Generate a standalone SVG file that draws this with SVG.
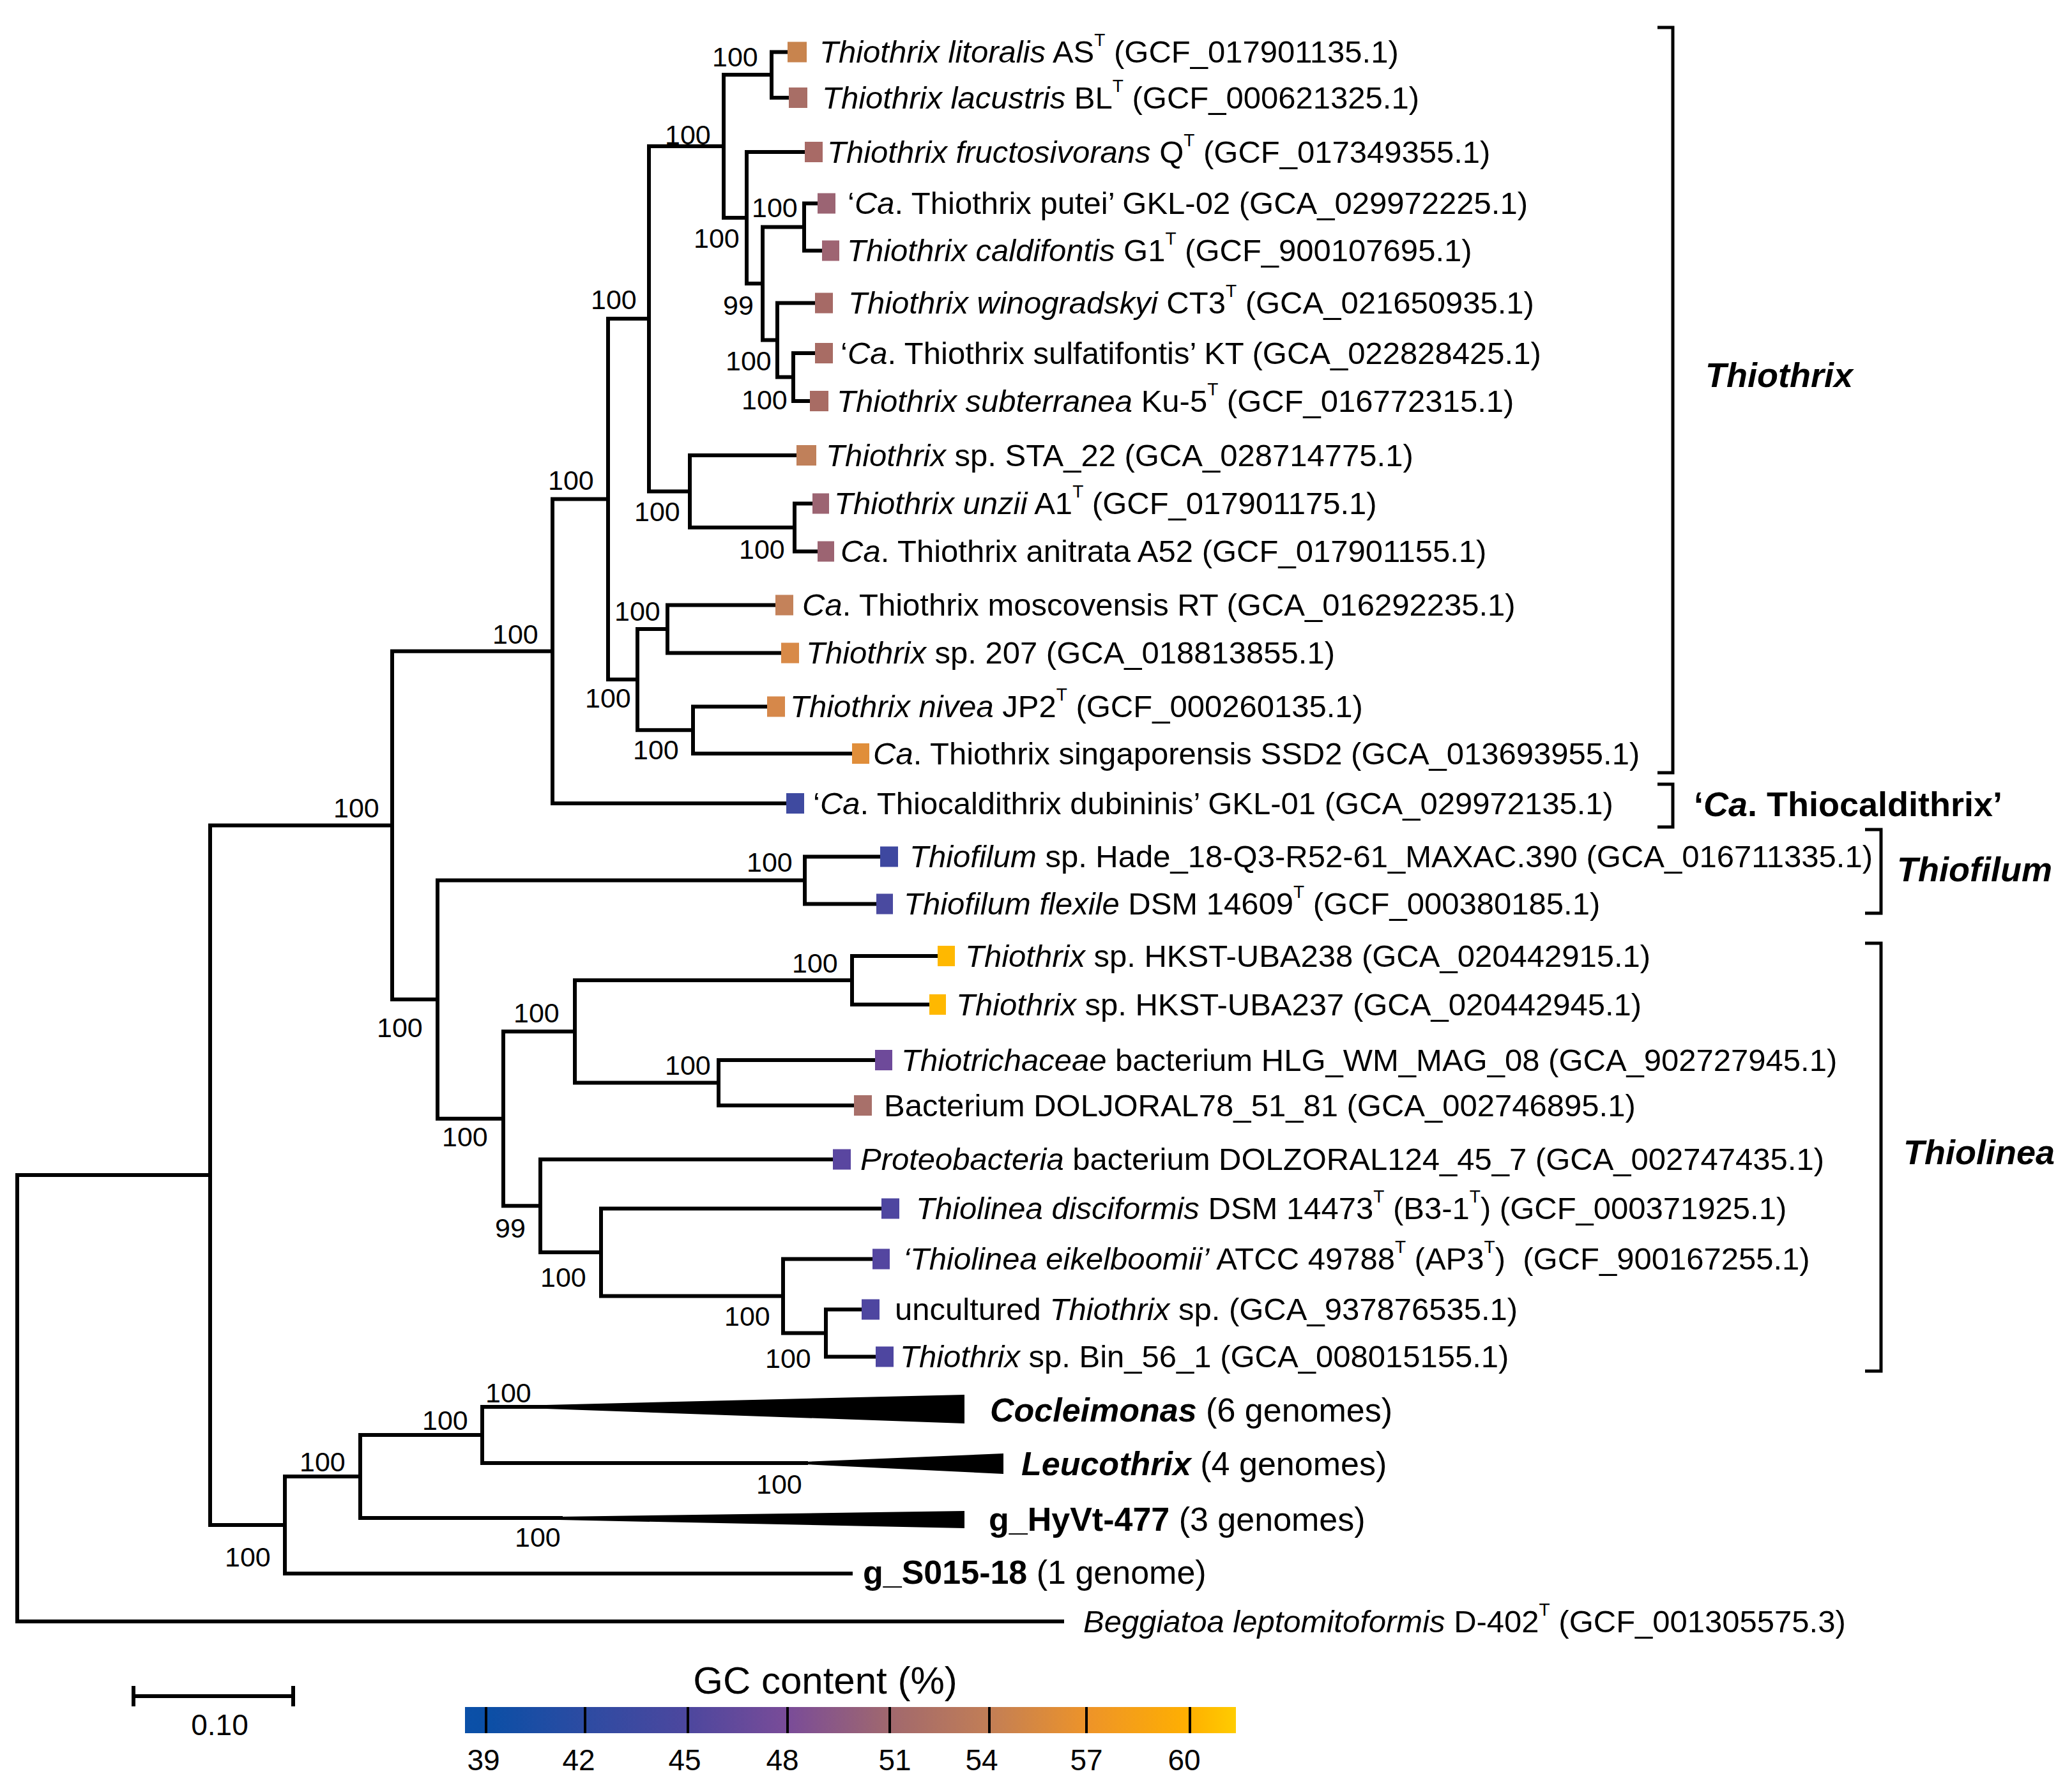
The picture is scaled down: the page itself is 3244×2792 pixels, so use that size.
<svg xmlns="http://www.w3.org/2000/svg" width="3244" height="2792" viewBox="0 0 3244 2792">
<style>
text{font-family:"Liberation Sans",Arial,sans-serif;fill:#000}
.leaf{font-size:49px}
.bs{font-size:43px}
.i{font-style:italic}
.b{font-weight:bold}
.sup{font-size:28px}
.clade{font-size:52px}
.grp{font-size:54px;font-weight:bold}
.br{fill:none;stroke:#000;stroke-width:6;stroke-linecap:square;stroke-linejoin:miter}
.bk{fill:none;stroke:#000;stroke-width:5}
.leg{font-size:46px}
</style>
<defs>
<linearGradient id="gc" x1="0" y1="0" x2="1" y2="0">
<stop offset="0" stop-color="#0B50A8"/>
<stop offset="0.03" stop-color="#0B4FA6"/>
<stop offset="0.16" stop-color="#2E4BA2"/>
<stop offset="0.29" stop-color="#4D479E"/>
<stop offset="0.42" stop-color="#7A4C98"/>
<stop offset="0.55" stop-color="#A0686E"/>
<stop offset="0.68" stop-color="#C27E56"/>
<stop offset="0.81" stop-color="#EE9428"/>
<stop offset="0.94" stop-color="#FFB000"/>
<stop offset="1" stop-color="#FFCC00"/>
</linearGradient>
</defs>
<rect width="3244" height="2792" fill="#fff"/>

<g id="connectors">
<path class="br" d="M1233,81.5 H1208 V153 H1235"/>
<path class="br" d="M1208,117 H1133 V341 H1169"/>
<path class="br" d="M1260,238 H1169 V444 H1194"/>
<path class="br" d="M1259,355.5 H1194 V532.5 H1217"/>
<path class="br" d="M1280,318.5 H1259 V392.5 H1287"/>
<path class="br" d="M1276,474.5 H1217 V590.5 H1242"/>
<path class="br" d="M1276,553 H1242 V628 H1268"/>
<path class="br" d="M1133,229 H1016 V769.5 H1080"/>
<path class="br" d="M1247,713 H1080 V826 H1244"/>
<path class="br" d="M1272,788.5 H1244 V863.5 H1280"/>
<path class="br" d="M1016,499 H952 V1064 H998"/>
<path class="br" d="M1045,985 H998 V1143.25 H1085"/>
<path class="br" d="M1214,947.5 H1045 V1022.5 H1223"/>
<path class="br" d="M1201,1106.5 H1085 V1180 H1334"/>
<path class="br" d="M952,781.5 H865 V1258 H1231"/>
<path class="br" d="M865,1019.75 H614 V1565 H685"/>
<path class="br" d="M1260,1378.5 H685 V1751.75 H788"/>
<path class="br" d="M1378,1341.5 H1260 V1415.5 H1372"/>
<path class="br" d="M900,1615.25 H788 V1888.25 H846"/>
<path class="br" d="M1334,1535 H900 V1695.5 H1125"/>
<path class="br" d="M1468,1497 H1334 V1573 H1455"/>
<path class="br" d="M1370,1660 H1125 V1731 H1337"/>
<path class="br" d="M1304,1815.5 H846 V1961 H941"/>
<path class="br" d="M1380,1892.5 H941 V2029.5 H1226"/>
<path class="br" d="M1366,1971.5 H1226 V2087.5 H1293"/>
<path class="br" d="M1349,2050.5 H1293 V2124.5 H1371"/>
<path class="br" d="M614,1292.4 H329 V2388 H446"/>
<path class="br" d="M329,1840 H27 V2539 H1663"/>
<path class="br" d="M564,2312 H446 V2464 H1332"/>
<path class="br" d="M755,2247 H564 V2377 H878"/>
<path class="br" d="M857,2203 H755 V2291 H1262"/>
</g>

<g id="support">
<text class="bs" x="1115" y="104">100</text>
<text class="bs" x="1041" y="226">100</text>
<text class="bs" x="1177" y="340">100</text>
<text class="bs" x="1086" y="388">100</text>
<text class="bs" x="1132" y="493">99</text>
<text class="bs" x="1136" y="580">100</text>
<text class="bs" x="1161" y="641">100</text>
<text class="bs" x="925" y="484">100</text>
<text class="bs" x="858" y="767">100</text>
<text class="bs" x="993" y="816">100</text>
<text class="bs" x="1157" y="875">100</text>
<text class="bs" x="962" y="972">100</text>
<text class="bs" x="916" y="1108">100</text>
<text class="bs" x="991" y="1189">100</text>
<text class="bs" x="771" y="1008">100</text>
<text class="bs" x="522" y="1280">100</text>
<text class="bs" x="1169" y="1365">100</text>
<text class="bs" x="590" y="1624">100</text>
<text class="bs" x="804" y="1601">100</text>
<text class="bs" x="1240" y="1523">100</text>
<text class="bs" x="1041" y="1683">100</text>
<text class="bs" x="692" y="1795">100</text>
<text class="bs" x="775" y="1938">99</text>
<text class="bs" x="846" y="2015">100</text>
<text class="bs" x="1134" y="2076">100</text>
<text class="bs" x="1198" y="2142">100</text>
<text class="bs" x="760" y="2196">100</text>
<text class="bs" x="661" y="2239">100</text>
<text class="bs" x="469" y="2304">100</text>
<text class="bs" x="1184" y="2339">100</text>
<text class="bs" x="806" y="2422">100</text>
<text class="bs" x="352" y="2453">100</text>
</g>

<g id="leaf-litoralis"><rect x="1233" y="65.5" width="30" height="32" fill="#C8844E"/><text class="leaf" x="1283" y="98"><tspan class="i">Thiothrix litoralis</tspan> AS<tspan class="sup" dy="-26">T</tspan><tspan dy="26"> (GCF_017901135.1)</tspan></text></g>
<g id="leaf-lacustris"><rect x="1235" y="137" width="29" height="32" fill="#A86E66"/><text class="leaf" x="1287" y="170"><tspan class="i">Thiothrix lacustris</tspan> BL<tspan class="sup" dy="-26">T</tspan><tspan dy="26"> (GCF_000621325.1)</tspan></text></g>
<g id="leaf-fructosivorans"><rect x="1260" y="222" width="28" height="32" fill="#A86A66"/><text class="leaf" x="1295" y="255"><tspan class="i">Thiothrix fructosivorans</tspan> Q<tspan class="sup" dy="-26">T</tspan><tspan dy="26"> (GCF_017349355.1)</tspan></text></g>
<g id="leaf-putei"><rect x="1280" y="302.5" width="28" height="32" fill="#9B6473"/><text class="leaf" x="1327" y="335">‘<tspan class="i">Ca</tspan>. Thiothrix putei’ GKL-02 (GCA_029972225.1)</text></g>
<g id="leaf-caldifontis"><rect x="1287" y="376.5" width="27" height="32" fill="#9E6472"/><text class="leaf" x="1326" y="409"><tspan class="i">Thiothrix caldifontis</tspan> G1<tspan class="sup" dy="-26">T</tspan><tspan dy="26"> (GCF_900107695.1)</tspan></text></g>
<g id="leaf-winogradskyi"><rect x="1276" y="458.5" width="28" height="32" fill="#A66A66"/><text class="leaf" x="1328" y="491"><tspan class="i">Thiothrix winogradskyi</tspan> CT3<tspan class="sup" dy="-26">T</tspan><tspan dy="26"> (GCA_021650935.1)</tspan></text></g>
<g id="leaf-sulfatifontis"><rect x="1276" y="537" width="28" height="32" fill="#A86C64"/><text class="leaf" x="1316" y="570">‘<tspan class="i">Ca</tspan>. Thiothrix sulfatifontis’ KT (GCA_022828425.1)</text></g>
<g id="leaf-subterranea"><rect x="1268" y="612" width="29" height="32" fill="#A86C64"/><text class="leaf" x="1310" y="645"><tspan class="i">Thiothrix subterranea</tspan> Ku-5<tspan class="sup" dy="-26">T</tspan><tspan dy="26"> (GCF_016772315.1)</tspan></text></g>
<g id="leaf-sta22"><rect x="1247" y="697" width="31" height="32" fill="#C0805A"/><text class="leaf" x="1293" y="730"><tspan class="i">Thiothrix</tspan> sp. STA_22 (GCA_028714775.1)</text></g>
<g id="leaf-unzii"><rect x="1272" y="772.5" width="26" height="32" fill="#9C6472"/><text class="leaf" x="1306" y="805"><tspan class="i">Thiothrix unzii</tspan> A1<tspan class="sup" dy="-26">T</tspan><tspan dy="26"> (GCF_017901175.1)</tspan></text></g>
<g id="leaf-anitrata"><rect x="1280" y="847.5" width="26" height="32" fill="#9C6472"/><text class="leaf" x="1316" y="880"><tspan class="i">Ca</tspan>. Thiothrix anitrata A52 (GCF_017901155.1)</text></g>
<g id="leaf-moscovensis"><rect x="1214" y="931.5" width="28" height="32" fill="#C4825A"/><text class="leaf" x="1256" y="964"><tspan class="i">Ca</tspan>. Thiothrix moscovensis RT (GCA_016292235.1)</text></g>
<g id="leaf-sp207"><rect x="1223" y="1006.5" width="28" height="32" fill="#D88A48"/><text class="leaf" x="1262" y="1039"><tspan class="i">Thiothrix</tspan> sp. 207 (GCA_018813855.1)</text></g>
<g id="leaf-nivea"><rect x="1201" y="1090.5" width="28" height="32" fill="#D6884A"/><text class="leaf" x="1237" y="1123"><tspan class="i">Thiothrix nivea</tspan> JP2<tspan class="sup" dy="-26">T</tspan><tspan dy="26"> (GCF_000260135.1)</tspan></text></g>
<g id="leaf-singaporensis"><rect x="1334" y="1164" width="27" height="32" fill="#E08E3A"/><text class="leaf" x="1367" y="1197"><tspan class="i">Ca</tspan>. Thiothrix singaporensis SSD2 (GCA_013693955.1)</text></g>
<g id="leaf-dubininis"><rect x="1231" y="1242" width="28" height="32" fill="#3F4AA0"/><text class="leaf" x="1273" y="1275">‘<tspan class="i">Ca</tspan>. Thiocaldithrix dubininis’ GKL-01 (GCA_029972135.1)</text></g>
<g id="leaf-thiofilum-sp"><rect x="1378" y="1325.5" width="28" height="32" fill="#3E48A0"/><text class="leaf" x="1424" y="1358"><tspan class="i">Thiofilum</tspan> sp. Hade_18-Q3-R52-61_MAXAC.390 (GCA_016711335.1)</text></g>
<g id="leaf-flexile"><rect x="1372" y="1399.5" width="26" height="32" fill="#4A4AA0"/><text class="leaf" x="1415" y="1432"><tspan class="i">Thiofilum flexile</tspan> DSM 14609<tspan class="sup" dy="-26">T</tspan><tspan dy="26"> (GCF_000380185.1)</tspan></text></g>
<g id="leaf-uba238"><rect x="1468" y="1481" width="27" height="32" fill="#FFB800"/><text class="leaf" x="1511" y="1514"><tspan class="i">Thiothrix</tspan> sp. HKST-UBA238 (GCA_020442915.1)</text></g>
<g id="leaf-uba237"><rect x="1455" y="1557" width="26" height="32" fill="#FFB800"/><text class="leaf" x="1497" y="1590"><tspan class="i">Thiothrix</tspan> sp. HKST-UBA237 (GCA_020442945.1)</text></g>
<g id="leaf-thiotrichaceae"><rect x="1370" y="1644" width="27" height="32" fill="#6E4A9A"/><text class="leaf" x="1411" y="1677"><tspan class="i">Thiotrichaceae</tspan> bacterium HLG_WM_MAG_08 (GCA_902727945.1)</text></g>
<g id="leaf-doljoral"><rect x="1337" y="1715" width="28" height="32" fill="#A8706A"/><text class="leaf" x="1384" y="1748">Bacterium DOLJORAL78_51_81 (GCA_002746895.1)</text></g>
<g id="leaf-proteobacteria"><rect x="1304" y="1799.5" width="28" height="32" fill="#5A46A0"/><text class="leaf" x="1347" y="1832"><tspan class="i">Proteobacteria</tspan> bacterium DOLZORAL124_45_7 (GCA_002747435.1)</text></g>
<g id="leaf-disciformis"><rect x="1380" y="1876.5" width="28" height="32" fill="#4E46A0"/><text class="leaf" x="1434" y="1909"><tspan class="i">Thiolinea disciformis</tspan> DSM 14473<tspan class="sup" dy="-26">T</tspan><tspan dy="26"> (B3-1</tspan><tspan class="sup" dy="-26">T</tspan><tspan dy="26">) (GCF_000371925.1)</tspan></text></g>
<g id="leaf-eikelboomii"><rect x="1366" y="1955.5" width="27" height="32" fill="#5446A0"/><text class="leaf" x="1414" y="1988"><tspan class="i">‘Thiolinea eikelboomii’</tspan> ATCC 49788<tspan class="sup" dy="-26">T</tspan><tspan dy="26"> (AP3</tspan><tspan class="sup" dy="-26">T</tspan><tspan dy="26">)&#160; (GCF_900167255.1)</tspan></text></g>
<g id="leaf-uncultured"><rect x="1349" y="2034.5" width="28" height="32" fill="#4E46A0"/><text class="leaf" x="1401" y="2067">uncultured <tspan class="i">Thiothrix</tspan> sp. (GCA_937876535.1)</text></g>
<g id="leaf-bin56"><rect x="1371" y="2108.5" width="28" height="32" fill="#4E46A0"/><text class="leaf" x="1409" y="2141"><tspan class="i">Thiothrix</tspan> sp. Bin_56_1 (GCA_008015155.1)</text></g>

<g id="clade-cocleimonas"><polygon points="855,2200 1510,2184 1510,2229 855,2206"/><text class="clade" x="1550" y="2226"><tspan class="b i">Cocleimonas</tspan> (6 genomes)</text></g>
<g id="clade-leucothrix"><polygon points="1260,2289 1571,2276 1571,2308 1260,2293"/><text class="clade" x="1599" y="2310"><tspan class="b i">Leucothrix</tspan> (4 genomes)</text></g>
<g id="clade-hyvt"><polygon points="876,2375 1510,2366 1510,2393 876,2380"/><text class="clade" x="1548" y="2397"><tspan class="b">g_HyVt-477</tspan> (3 genomes)</text></g>
<g id="clade-s015"><text class="clade" x="1351" y="2480"><tspan class="b">g_S015-18</tspan> (1 genome)</text></g>
<g id="leaf-beggiatoa"><text class="leaf" x="1696" y="2556"><tspan class="i">Beggiatoa leptomitoformis</tspan> D-402<tspan class="sup" dy="-26">T</tspan><tspan dy="26"> (GCF_001305575.3)</tspan></text></g>

<g id="group-thiothrix"><path class="bk" d="M2595,43 H2619 V1210 H2595"/><text class="grp i" x="2670" y="606">Thiothrix</text></g>
<g id="group-thiocaldithrix"><path class="bk" d="M2595,1228 H2619 V1295 H2595"/><text class="grp" x="2652" y="1278">‘<tspan class="i">Ca</tspan>. Thiocaldithrix’</text></g>
<g id="group-thiofilum"><path class="bk" d="M2920,1299 H2945 V1430 H2920"/><text class="grp i" x="2970" y="1380">Thiofilum</text></g>
<g id="group-thiolinea"><path class="bk" d="M2920,1477 H2945 V2147 H2920"/><text class="grp i" x="2980" y="1823">Thiolinea</text></g>

<g id="scale-bar"><path class="br" d="M209,2656 H459 M209,2640 V2672 M459,2640 V2672" style="stroke-linecap:butt"/><text class="leg" x="344" y="2717" text-anchor="middle">0.10</text></g>

<g id="gc-legend">
<text x="1292" y="2652" text-anchor="middle" style="font-size:60px">GC content (%)</text>
<rect x="728" y="2673" width="1207" height="41" fill="url(#gc)"/>
<path d="M761,2673 V2714 M916,2673 V2714 M1077,2673 V2714 M1233,2673 V2714 M1393,2673 V2714 M1549,2673 V2714 M1701,2673 V2714 M1863,2673 V2714" stroke="#000" stroke-width="4"/>
<g class="leg" text-anchor="middle">
<text class="leg" x="757" y="2772">39</text>
<text class="leg" x="906" y="2772">42</text>
<text class="leg" x="1072" y="2772">45</text>
<text class="leg" x="1225" y="2772">48</text>
<text class="leg" x="1401" y="2772">51</text>
<text class="leg" x="1537" y="2772">54</text>
<text class="leg" x="1701" y="2772">57</text>
<text class="leg" x="1854" y="2772">60</text>
</g>
</g>
</svg>
